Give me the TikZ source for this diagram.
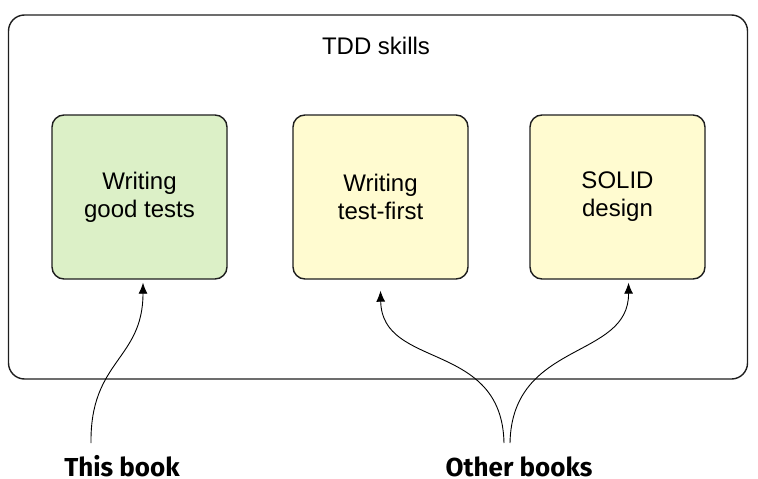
\documentclass[tikz,border=0pt]{standalone}
\usepackage{fontspec}
\setmainfont{Liberation Sans}
\newfontfamily\labelfont{Fira Sans}
\usetikzlibrary{arrows.meta}
\definecolor{greenfill}{RGB}{220,240,199}
\definecolor{yellowfill}{RGB}{255,251,208}
\definecolor{linegray}{RGB}{30,30,30}
\tikzset{
  skillbox/.style={draw=linegray, line width=1.4pt, rounded corners=12pt,
    minimum width=175pt, minimum height=164pt, align=center,
    font=\fontsize{24pt}{28pt}\selectfont, inner sep=0pt},
  bookarrow/.style={draw=black, line width=0.9pt, -{Latex[length=11pt,width=9pt]}},
  booklabel/.style={font=\labelfont\bfseries\fontsize{26pt}{30pt}\selectfont, anchor=base, inner sep=0pt}
}
\begin{document}
\begin{tikzpicture}[x=1pt,y=-1pt]
\useasboundingbox (0,0) rectangle (758,479);
\node[draw=linegray, line width=1.4pt, rounded corners=16pt, minimum width=739pt, minimum height=364pt, inner sep=0pt] (outer) at (378,197) {};
\node[anchor=base, font=\fontsize{24pt}{28pt}\selectfont, inner sep=0pt] (title) at (376,54) {TDD skills};
\node[skillbox, fill=greenfill] (b1) at (139.5,197) {Writing\\good tests};
\node[skillbox, fill=yellowfill] (b2) at (380.5,197) {Writing\\test-first};
\node[skillbox, fill=yellowfill] (b3) at (617.5,197) {SOLID\\design};
\node[booklabel] (thisbook) at (122,476) {This book};
\node[booklabel] (otherbooks) at (519,476) {Other books};
\coordinate (s1) at (91,443);
\coordinate (s2) at (504,443);
\coordinate (s3) at (510,443);
\draw[bookarrow] (s1) .. controls (90,360) and (143,360) .. ([xshift=3.5pt,yshift=-3pt]b1.south);
\draw[bookarrow] (s2) .. controls (502,340) and (382,370) .. ([xshift=0pt,yshift=-11pt]b2.south);
\draw[bookarrow] (s3) .. controls (512,340) and (629,360) .. ([xshift=11pt,yshift=-3pt]b3.south);
\end{tikzpicture}
\end{document}
